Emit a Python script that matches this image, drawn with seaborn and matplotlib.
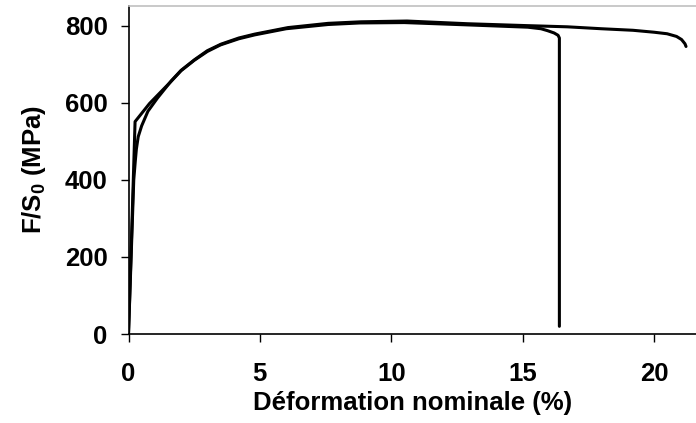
import matplotlib
matplotlib.use("Agg")
import matplotlib.pyplot as plt
import seaborn as sns
import pandas as pd

# Curve A (breaks at ~16.4 %)
strain_a = [0, 0.10, 0.25, 0.8, 1.4, 1.63, 2.0, 2.5, 3.0, 3.5, 4.2, 4.8, 6.0, 7.6, 8.8,
            10.5, 12.9, 15.2, 15.7, 15.95, 16.2, 16.35, 16.4, 16.4]
stress_a = [0, 215, 551, 598, 640, 656, 683, 710, 733, 750, 766, 776, 792, 803, 807,
            808, 802, 796, 792, 787, 781, 775, 768, 20]

# Curve B (breaks at ~21.2 %)
strain_b = [0, 0.10, 0.20, 0.26, 0.30, 0.37, 0.50, 0.74, 1.1, 1.63, 2.0, 2.52, 3.0, 3.52,
            4.2, 4.8, 6.07, 7.6, 8.85, 10.6, 12.9, 15.2, 16.7, 18.0, 19.2, 20.0, 20.5,
            20.86, 21.05, 21.18, 21.22]
stress_b = [0, 200, 400, 450, 480, 512, 540, 578, 612, 657, 684, 712, 735, 752,
            768, 778, 795, 806, 810, 812, 805, 800, 797, 792, 788, 783, 779,
            772, 764, 753, 746]

xticks = [0, 5, 10, 15, 20]
yticks = [0, 200, 400, 600, 800]

sns.set_theme(style="white")
plt.rcParams["font.family"] = ["Liberation Sans", "DejaVu Sans"]
plt.rcParams["font.weight"] = "bold"
plt.rcParams["text.color"] = "black"
plt.rcParams["mathtext.fontset"] = "custom"
plt.rcParams["mathtext.rm"] = "Liberation Sans:bold"
plt.rcParams["mathtext.bf"] = "Liberation Sans:bold"
plt.rcParams["mathtext.it"] = "Liberation Sans:bold"

df_a = pd.DataFrame({"strain": strain_a, "stress": stress_a})
df_b = pd.DataFrame({"strain": strain_b, "stress": stress_b})

fig = plt.figure(figsize=(6.96, 4.23), dpi=100)
ax = fig.add_axes([128.5 / 696, 1 - 334 / 423, (696 - 128.5) / 696, (334 - 6) / 423])

sns.lineplot(data=df_b, x="strain", y="stress", sort=False, estimator=None,
             color="black", linewidth=2.2, ax=ax)
sns.lineplot(data=df_a, x="strain", y="stress", sort=False, estimator=None,
             color="black", linewidth=2.2, ax=ax)

ax.set_xlim(0, 21.6)
ax.set_ylim(0, 851)
ax.set_xticks(xticks)
ax.set_yticks(yticks)
ax.set_xticklabels([str(t) for t in xticks], fontsize=18.5, fontweight="bold", color="black")
ax.set_yticklabels([str(t) for t in yticks], fontsize=18.5, fontweight="bold", color="black")
ax.tick_params(axis="x", direction="out", length=6, width=1, color="black",
               bottom=True, pad=14)
ax.tick_params(axis="y", direction="out", length=6, width=1, color="black",
               left=True, pad=9)

ax.set_xlabel("Déformation nominale (%)", fontsize=18.5, fontweight="bold",
              color="black", labelpad=3.5)
ax.set_ylabel(r"F/S$_{\mathbf{0}}$ (MPa)", fontsize=18.5, fontweight="bold",
              color="black", labelpad=12)

for s in ["left", "bottom"]:
    ax.spines[s].set_visible(True)
    ax.spines[s].set_color("black")
    ax.spines[s].set_linewidth(1.2)
ax.spines["top"].set_visible(True)
ax.spines["top"].set_color("#c0c0c0")
ax.spines["top"].set_linewidth(1.2)
ax.spines["right"].set_visible(False)
ax.grid(False)

fig.savefig("out.png", dpi=100)
